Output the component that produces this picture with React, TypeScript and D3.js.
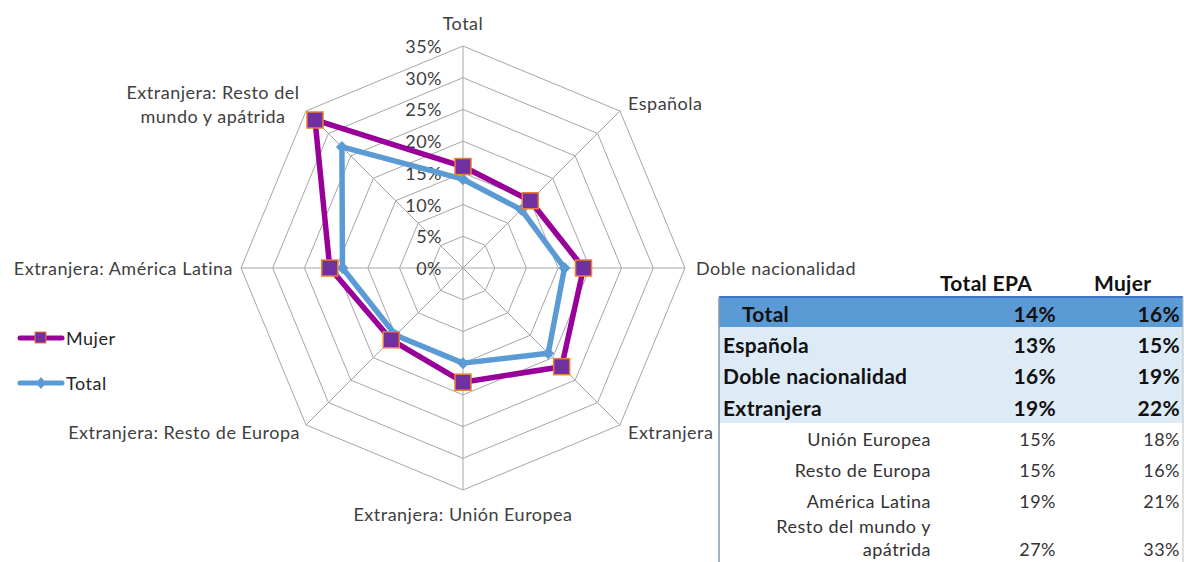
import React from 'react';
import * as d3 from 'd3';

// categories of the radar, clockwise from the top
const categories = [
  'Total',
  'Española',
  'Doble nacionalidad',
  'Extranjera',
  'Extranjera: Unión Europea',
  'Extranjera: Resto de Europa',
  'Extranjera: América Latina',
  'Extranjera: Resto del mundo y apátrida',
];
const mujer = [0.16, 0.15, 0.19, 0.22, 0.18, 0.16, 0.21, 0.33];
const total = [0.14, 0.13, 0.16, 0.19, 0.15, 0.15, 0.19, 0.27];
const ticks = [0, 0.05, 0.1, 0.15, 0.2, 0.25, 0.3, 0.35];

// table on the right
const tableMain = ['Total', 'Española', 'Doble nacionalidad', 'Extranjera'];
const tableSub = ['Unión Europea', 'Resto de Europa', 'América Latina', 'Resto del mundo y apátrida'];

const W = 1184;
const H = 562;
const cx = 463;
const cy = 268;
const R = 222;
const FONT = 'Lato, "Open Sans", sans-serif';

const MUJER_COLOR = '#990099';
const TOTAL_COLOR = '#5B9BD5';

export default function App() {
  const r = d3.scaleLinear().domain([0, 0.35]).range([0, R]);
  const ang = d3.scaleLinear().domain([0, categories.length]).range([0, 2 * Math.PI]);
  const pt = (i: number, v: number): [number, number] => [
    cx + r(v) * Math.sin(ang(i)),
    cy - r(v) * Math.cos(ang(i)),
  ];
  const poly = d3.line().curve(d3.curveLinearClosed);
  const fmt = d3.format('.0%');

  const gridRings = ticks.slice(1).map((t) => poly(categories.map((_, i) => pt(i, t))));

  // label placement: absolute anchor point + text-anchor
  const labelPos: [number, number, string][] = [
    [463, 30, 'middle'],
    [628, 110, 'start'],
    [696, 275, 'start'],
    [628, 439, 'start'],
    [463, 521, 'middle'],
    [300, 439, 'end'],
    [233, 275, 'end'],
    [213, 99, 'middle'],
  ];

  const lbl = { fontSize: 18, letterSpacing: 0.5, fill: '#404040' };

  return (
    <svg width={W} height={H} style={{ position: 'absolute', left: 0, top: 0, background: '#fff' }}>
      <g fontFamily={FONT}>
        {/* grid */}
        {gridRings.map((d, i) => (
          <path key={'ring' + i} d={d || ''} fill="none" stroke="#A6A6A6" strokeWidth={1} />
        ))}
        {categories.map((_, i) => {
          const [x, y] = pt(i, 0.35);
          return <line key={'sp' + i} x1={cx} y1={cy} x2={x} y2={y} stroke="#A6A6A6" strokeWidth={1} />;
        })}
        {/* tick labels */}
        {ticks.map((t) => (
          <text key={'t' + t} x={cx - 21} y={cy - r(t) + 7} textAnchor="end" {...lbl}>
            {fmt(t)}
          </text>
        ))}
        {/* category labels */}
        {categories.map((c, i) => {
          const [x, y, anchor] = labelPos[i];
          if (i === 7) {
            return (
              <text key={'c' + i} x={x} y={y} textAnchor="middle" {...lbl}>
                <tspan x={x}>Extranjera: Resto del</tspan>
                <tspan x={x} dy={24}>mundo y apátrida</tspan>
              </text>
            );
          }
          return (
            <text key={'c' + i} x={x} y={y} textAnchor={anchor as any} {...lbl}>
              {c}
            </text>
          );
        })}
        {/* series */}
        <path d={poly(mujer.map((v, i) => pt(i, v))) || ''} fill="none" stroke={MUJER_COLOR} strokeWidth={5.5} strokeLinejoin="round" />
        <path d={poly(total.map((v, i) => pt(i, v))) || ''} fill="none" stroke={TOTAL_COLOR} strokeWidth={5.5} strokeLinejoin="round" />
        {total.map((v, i) => {
          const [x, y] = pt(i, v);
          return <path key={'dt' + i} d={`M${x},${y - 6}L${x + 6},${y}L${x},${y + 6}L${x - 6},${y}Z`} fill={TOTAL_COLOR} />;
        })}
        {mujer.map((v, i) => {
          const [x, y] = pt(i, v);
          return <rect key={'mk' + i} x={x - 8} y={y - 8} width={16} height={16} fill="#7030A0" stroke="#ED7D31" strokeWidth={1.5} />;
        })}
        {/* legend */}
        <line x1={20} y1={338} x2={62} y2={338} stroke={MUJER_COLOR} strokeWidth={5} strokeLinecap="round" />
        <rect x={35} y={332} width={11} height={11} fill="#7030A0" stroke="#ED7D31" strokeWidth={1} />
        <text x={66} y={345} fontSize={18} letterSpacing={0.5} fill="#262626">Mujer</text>
        <line x1={20} y1={383} x2={62} y2={383} stroke={TOTAL_COLOR} strokeWidth={5} strokeLinecap="round" />
        <path d="M41,377L46,383L41,389L36,383Z" fill={TOTAL_COLOR} />
        <text x={66} y={390} fontSize={18} letterSpacing={0.5} fill="#262626">Total</text>

        {/* table */}
        <text x={940} y={291} fontSize={21} fontWeight="bold" letterSpacing={0.3} fill="#111">Total EPA</text>
        <text x={1094} y={291} fontSize={21} fontWeight="bold" letterSpacing={0.3} fill="#111">Mujer</text>
        <rect x={719} y={297} width={464} height={30} fill="#5B9BD5" />
        <rect x={719} y={327} width={464} height={96} fill="#DDEBF7" />
        <line x1={719} y1={297} x2={1183} y2={297} stroke="#4472C4" strokeWidth={2} />
        <line x1={719} y1={297} x2={719} y2={H} stroke="#8497B0" strokeWidth={1.5} />
        <line x1={1183} y1={297} x2={1183} y2={H} stroke="#BFBFBF" strokeWidth={1} />
        {tableMain.map((c, i) => {
          const y = 322 + i * 31.2;
          return (
            <g key={'tm' + i} fontSize={21} fontWeight="bold" letterSpacing={0.3} fill="#111">
              <text x={i === 0 ? 742 : 723} y={y}>{c}</text>
              <text x={1056} y={y} textAnchor="end">{fmt(total[i])}</text>
              <text x={1180} y={y} textAnchor="end">{fmt(mujer[i])}</text>
            </g>
          );
        })}
        {tableSub.map((c, j) => {
          const i = j + 4;
          const y = j < 3 ? 446 + j * 31 : 556;
          return (
            <g key={'ts' + j} fontSize={18} letterSpacing={0.5} fill="#333">
              {j < 3 ? (
                <text x={931} y={y} textAnchor="end">{c}</text>
              ) : (
                <text x={931} y={533} textAnchor="end">
                  <tspan x={931}>Resto del mundo y</tspan>
                  <tspan x={931} dy={23}>apátrida</tspan>
                </text>
              )}
              <text x={1056} y={y} textAnchor="end">{fmt(total[i])}</text>
              <text x={1180} y={y} textAnchor="end">{fmt(mujer[i])}</text>
            </g>
          );
        })}
      </g>
    </svg>
  );
}
